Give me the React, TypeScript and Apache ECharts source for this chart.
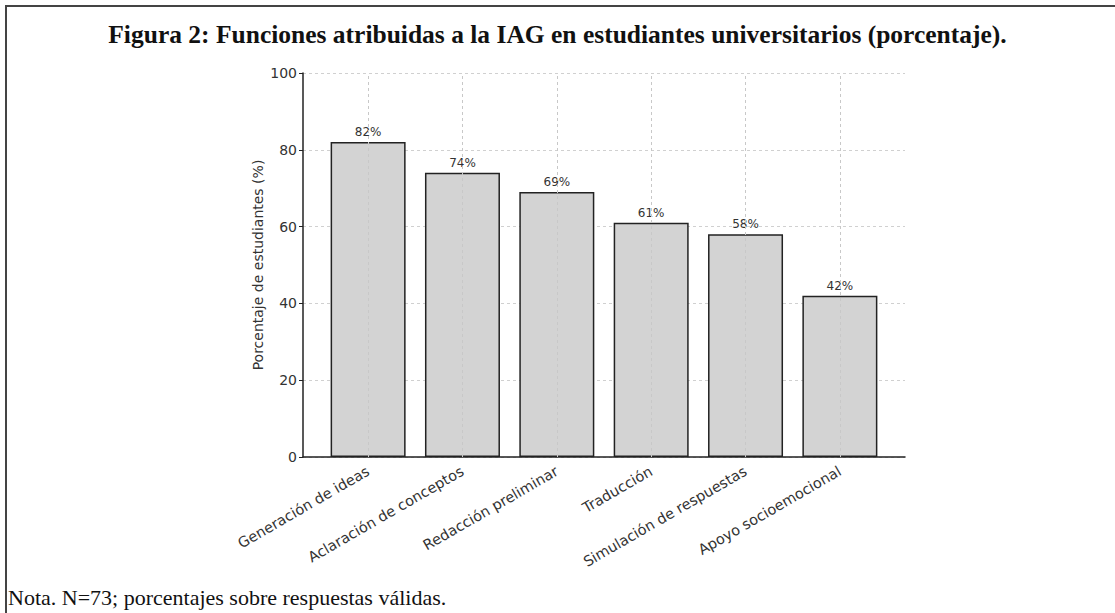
import React, { useEffect, useRef } from "react";
import * as echarts from "echarts";

const categories = [
  "Generación de ideas",
  "Aclaración de conceptos",
  "Redacción preliminar",
  "Traducción",
  "Simulación de respuestas",
  "Apoyo socioemocional",
];
const values = [82, 74, 69, 61, 58, 42];
const yTicks = [0, 20, 40, 60, 80, 100];

const titleText =
  "Figura 2: Funciones atribuidas a la IAG en estudiantes universitarios (porcentaje).";
const noteText = "Nota. N=73; porcentajes sobre respuestas válidas.";
const yName = "Porcentaje de estudiantes (%)";

export default function App() {
  const ref = useRef<HTMLDivElement>(null);
  useEffect(() => {
    document.body.style.margin = "0";
    const chart = echarts.init(ref.current!, null, { renderer: "svg" });
    const font = "DejaVu Sans";
    chart.setOption({
      animation: false,
      backgroundColor: "#ffffff",
      title: {
        text: titleText,
        left: "center",
        top: 16,
        textStyle: {
          fontFamily: "Liberation Serif",
          fontSize: 25.5,
          fontWeight: "bold",
          color: "#111",
        },
      },
      graphic: [
        {
          type: "line",
          shape: { x1: 5, y1: 6, x2: 1115, y2: 6 },
          style: { stroke: "#444", lineWidth: 2 },
        },
        {
          type: "line",
          shape: { x1: 6, y1: 5, x2: 6, y2: 613 },
          style: { stroke: "#444", lineWidth: 2 },
        },
        {
          type: "text",
          left: 8,
          top: 586,
          style: {
            text: noteText,
            fontFamily: "Liberation Serif",
            fontSize: 22,
            fill: "#111",
          },
        },
      ],
      grid: { left: 303, right: 210, top: 73, bottom: 156 },
      xAxis: {
        type: "value",
        min: -0.69,
        max: 5.69,
        minInterval: 1,
        maxInterval: 1,
        axisLine: { show: true, onZero: false, lineStyle: { color: "#222", width: 1.5 } },
        axisTick: { show: false },
        splitLine: { show: false },
        axisLabel: {
          rotate: 30,
          margin: 13,
          fontFamily: font,
          fontSize: 14.5,
          color: "#333",
          showMinLabel: false,
          showMaxLabel: false,
          formatter: (v: number) =>
            Number.isInteger(v) && categories[v] ? categories[v] : "",
        },
      },
      yAxis: {
        type: "value",
        min: 0,
        max: 100,
        interval: 20,
        name: yName,
        nameLocation: "middle",
        nameGap: 38,
        nameMoveOverlap: false,
        nameTextStyle: { fontFamily: font, fontSize: 14, color: "#333" },
        axisLine: { show: true, onZero: false, lineStyle: { color: "#222", width: 1.5 } },
        axisTick: { show: true, length: 4, lineStyle: { color: "#222" } },
        axisLabel: {
          fontFamily: font,
          fontSize: 14,
          color: "#333",
          margin: 6,
          customValues: yTicks,
        },
        splitLine: {
          show: true,
          lineStyle: { color: "#d0d0d0", type: [3, 3], width: 1 },
        },
      },
      series: [
        {
          type: "bar",
          barWidth: 75,
          data: values.map((v, i) => [i, v]),
          itemStyle: { color: "#d3d3d3", borderColor: "#222", borderWidth: 1.5 },
          label: {
            show: true,
            position: "top",
            distance: 4,
            fontFamily: font,
            fontSize: 12,
            color: "#333",
            formatter: (p: any) => `${p.value[1]}%`,
          },
          markLine: {
            silent: true,
            symbol: "none",
            label: { show: false },
            emphasis: { disabled: true },
            lineStyle: { color: "#c8c8c8", type: [3, 3], width: 1 },
            data: categories.map((_, i) => [
              { coord: [i, yTicks[0]] },
              { coord: [i, yTicks[yTicks.length - 1]] },
            ]),
          },
        },
      ],
    });
    return () => chart.dispose();
  }, []);
  return (
    <div
      ref={ref}
      style={{ position: "fixed", left: 0, top: 0, width: 1115, height: 613 }}
    />
  );
}
